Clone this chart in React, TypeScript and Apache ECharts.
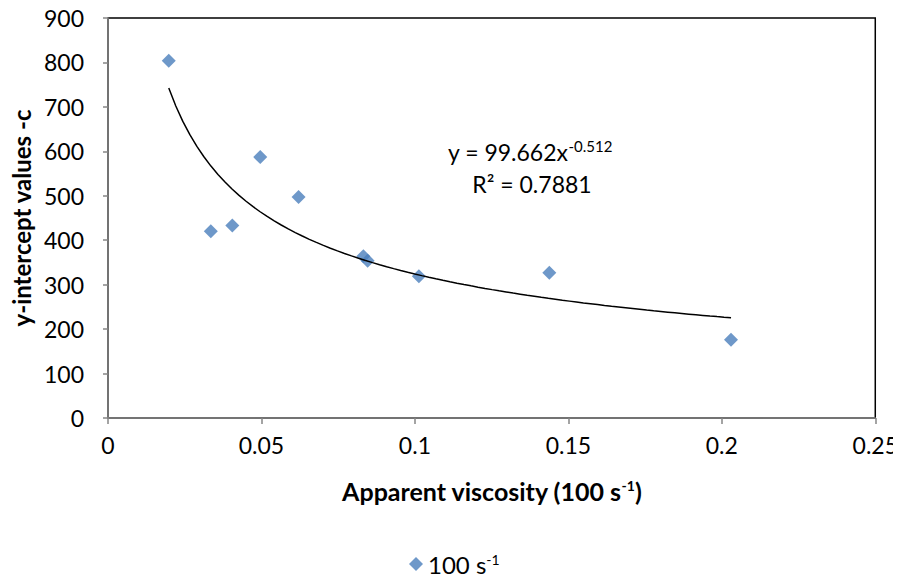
import React, { useEffect, useRef } from "react";
import * as echarts from "echarts";

// Observed points: apparent viscosity (x) vs y-intercept values (y)
const viscosity = [0.0198, 0.0335, 0.0405, 0.0496, 0.0621, 0.0832, 0.0846, 0.1013, 0.1438, 0.203];
const intercept = [804, 420, 433, 587, 497, 364, 354, 319, 327, 176];

// Power trend line shown on the chart: y = 99.662 x^-0.512
const TREND_COEF = 99.662;
const TREND_EXP = -0.512;
const TREND_X_START = 0.0198;
const TREND_X_END = 0.203;
const TREND_STEPS = 80;

const xTicks = { min: 0, max: 0.25, interval: 0.05 };
const yTicks = { min: 0, max: 900, interval: 100 };

const FONT = "Lato, 'Open Sans', sans-serif";
const FS = 23;

export default function App() {
  const ref = useRef<HTMLDivElement>(null);
  useEffect(() => {
    if (!ref.current) return;
    const chart = echarts.init(ref.current, undefined, { renderer: "svg" });
    const points = viscosity.map((x, i) => [x, intercept[i]]);
    const trend: number[][] = [];
    for (let i = 0; i <= TREND_STEPS; i++) {
      const x = TREND_X_START + ((TREND_X_END - TREND_X_START) * i) / TREND_STEPS;
      trend.push([x, TREND_COEF * Math.pow(x, TREND_EXP)]);
    }
    chart.setOption({
      animation: false,
      backgroundColor: "#fff",
      textStyle: { fontFamily: FONT },
      grid: {
        left: 108,
        top: 18,
        right: 23,
        bottom: 160,
        show: true,
        borderColor: "#000",
        borderWidth: 1.5,
        backgroundColor: "transparent",
      },
      legend: {
        data: ["100 s-1"],
        left: 409,
        top: 552,
        icon: "diamond",
        itemWidth: 14,
        itemHeight: 14,
        itemGap: 4,
        padding: 0,
        formatter: () => "{n|100 s}{s|-1}",
        textStyle: {
          rich: {
            n: { fontFamily: FONT, fontSize: 24, color: "#000", lineHeight: 24 },
            s: { fontFamily: FONT, fontSize: 14, color: "#000", verticalAlign: "top", lineHeight: 12 },
          },
        },
      },
      xAxis: {
        type: "value",
        min: xTicks.min,
        max: xTicks.max,
        interval: xTicks.interval,
        splitLine: { show: false },
        axisLine: { show: true, onZero: false, lineStyle: { color: "#868686", width: 1.5 } },
        axisTick: { show: true, length: 6, lineStyle: { color: "#868686", width: 1.5 } },
        axisLabel: { color: "#000", fontSize: FS, fontFamily: FONT, margin: 15 },
        name: "{t|Apparent viscosity (100 s}{s|-1}{t|)}",
        nameLocation: "middle",
        nameGap: 60,
        nameTextStyle: {
          rich: {
            t: { fontFamily: FONT, fontSize: 25, fontWeight: "bold", color: "#000" },
            s: { fontFamily: FONT, fontSize: 14, fontWeight: "bold", color: "#000", verticalAlign: "top", padding: [0, 0, 10, 0] },
          },
        },
      },
      yAxis: {
        type: "value",
        min: yTicks.min,
        max: yTicks.max,
        interval: yTicks.interval,
        splitLine: { show: false },
        axisLine: { show: true, onZero: false, lineStyle: { color: "#868686", width: 1.5 } },
        axisTick: { show: true, length: 5, lineStyle: { color: "#868686", width: 1.5 } },
        axisLabel: { color: "#000", fontSize: FS, fontFamily: FONT, margin: 24 },
        name: "y-intercept values -c",
        nameLocation: "middle",
        nameGap: 64,
        nameTextStyle: { fontFamily: FONT, fontSize: 24, fontWeight: "bold", color: "#000" },
      },
      series: [
        {
          name: "100 s-1",
          type: "scatter",
          symbol: "diamond",
          symbolSize: 14,
          itemStyle: { color: "#4A7EBB" },
          data: points,
          z: 3,
        },
        {
          name: "trend",
          type: "line",
          data: trend,
          showSymbol: false,
          symbol: "none",
          lineStyle: { color: "#000", width: 1.5 },
          silent: true,
          z: 4,
        },
      ],
      graphic: [
        {
          type: "text",
          left: 448,
          top: 138,
          style: {
            text: "{a|y = 99.662x}{b|-0.512}",
            rich: {
              a: { fontFamily: FONT, fontSize: FS, fill: "#000", lineHeight: 28 },
              b: { fontFamily: FONT, fontSize: 15, fill: "#000", verticalAlign: "top", padding: [0, 0, 12, 0] },
            },
          },
        },
        {
          type: "text",
          x: 532,
          y: 184,
          style: {
            text: "R² = 0.7881",
            fontFamily: FONT,
            fontSize: FS,
            fill: "#000",
            align: "center",
            verticalAlign: "middle",
          },
        },
      ],
    });
    return () => chart.dispose();
  }, []);
  return <div ref={ref} style={{ width: 901, height: 578, marginLeft: -8, marginTop: -8 }} />;
}
